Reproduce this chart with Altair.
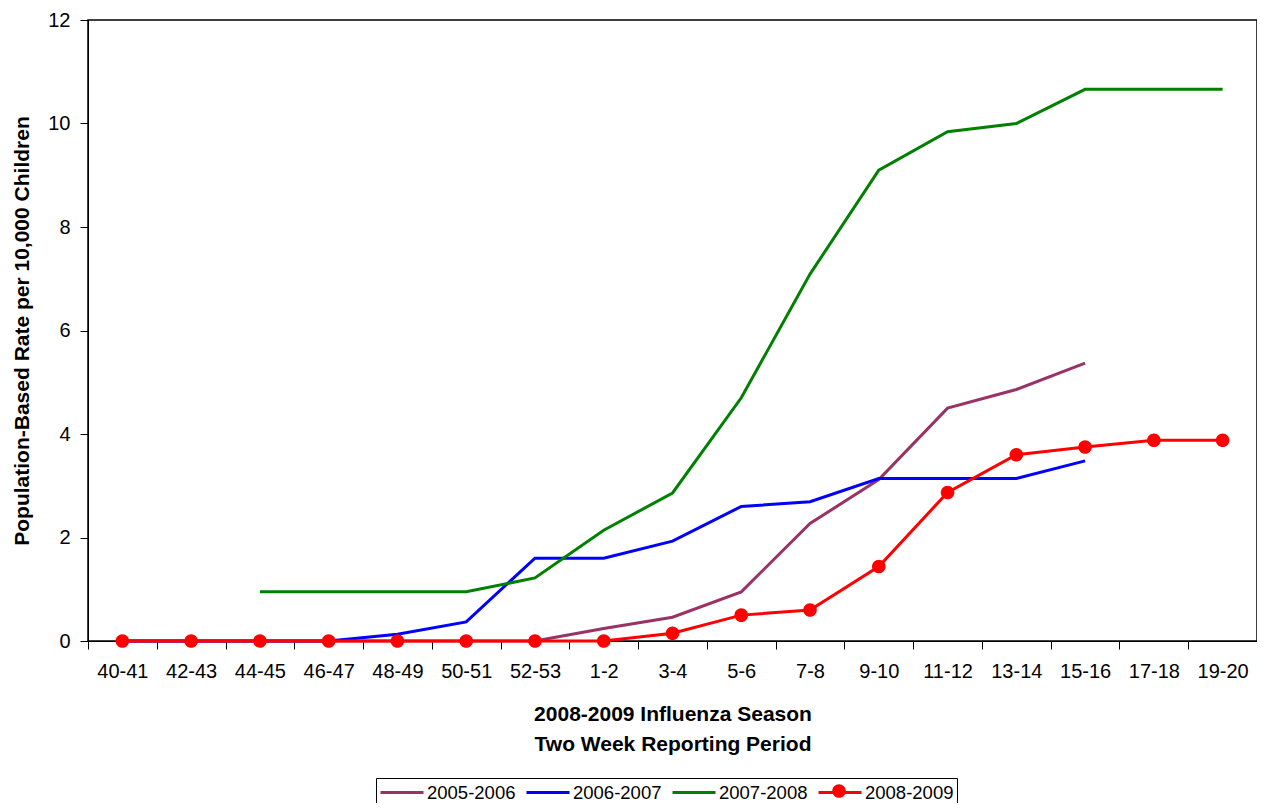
import altair as alt
import pandas as pd

periods = ["40-41", "42-43", "44-45", "46-47", "48-49", "50-51", "52-53", "1-2", "3-4",
           "5-6", "7-8", "9-10", "11-12", "13-14", "15-16", "17-18", "19-20"]
series_names = ["2005-2006", "2006-2007", "2007-2008", "2008-2009"]
series_colors = ["#993366", "#0000FF", "#008000", "#FF0000"]

s2005 = [0, 0, 0, 0, 0, 0, 0, 0.24, 0.46, 0.95, 2.27, 3.12, 4.50, 4.86, 5.37, None, None]
s2006 = [0, 0, 0, 0, 0.13, 0.37, 1.60, 1.60, 1.93, 2.60, 2.69, 3.14, 3.14, 3.14, 3.48, None, None]
s2007 = [None, None, 0.95, 0.95, 0.95, 0.95, 1.22, 2.14, 2.86, 4.70, 7.09, 9.10, 9.84, 10.0, 10.66, 10.66, 10.66]
s2008 = [0, 0, 0, 0, 0, 0, 0, 0, 0.15, 0.50, 0.60, 1.44, 2.87, 3.60, 3.75, 3.88, 3.88]

rows = []
for name, vals in zip(series_names, [s2005, s2006, s2007, s2008]):
    for p, v in zip(periods, vals):
        if v is not None:
            rows.append({"period": p, "rate": v, "series": name, "marker": name})
df = pd.DataFrame(rows)
df_red = df[df["series"] == "2008-2009"]

FONT = "Liberation Sans"

x_enc = alt.X(
    "period:N", sort=periods,
    scale=alt.Scale(type="band", domain=periods, paddingInner=0, paddingOuter=0),
    bandPosition=0.5,
    axis=alt.Axis(
        title=["2008-2009 Influenza Season", "Two Week Reporting Period"],
        labelAngle=0, tickBand="extent", tickSize=8, labelPadding=12,
        labelFontSize=20, titleFontSize=21, titleFontWeight="bold",
        titleLineHeight=30, titlePadding=22,
        domainColor="black", tickColor="black", labelColor="black", titleColor="black",
        grid=False,
    ),
)
y_enc = alt.Y(
    "rate:Q",
    scale=alt.Scale(domain=[0, 12], nice=False),
    axis=alt.Axis(
        title="Population-Based Rate per 10,000 Children",
        values=[0, 2, 4, 6, 8, 10, 12], tickSize=8, labelPadding=10,
        labelFontSize=20, titleFontSize=21, titleFontWeight="bold", titlePadding=15,
        domainColor="black", tickColor="black", labelColor="black", titleColor="black",
        grid=False,
    ),
)

LEG_X = 288
LEG_Y = 758
PERIOD = 145.5

lines = alt.Chart(df).mark_line(strokeWidth=3).encode(
    x=x_enc,
    y=y_enc,
    color=alt.Color(
        "series:N",
        scale=alt.Scale(domain=series_names, range=series_colors),
        legend=alt.Legend(
            title=None, orient="none", legendX=LEG_X, legendY=LEG_Y,
            direction="horizontal", columns=4, padding=3,
            symbolSize=400, symbolStrokeWidth=3, symbolType="M-1,0H3.3",
            labelFontSize=18.5, labelFont=FONT, labelOffset=25, columnPadding=4,
            labelColor="black", strokeColor="black", fillColor="white", zindex=0,
        ),
    ),
    detail="series:N",
)

circle_path = "M0.68,0A0.68,0.68 0 1 1 -0.68,0A0.68,0.68 0 1 1 0.68,0Z"
points = alt.Chart(df_red).mark_point(filled=True, size=400, opacity=1, color="#FF0000").encode(
    x=x_enc,
    y=y_enc,
    shape=alt.Shape(
        "marker:N",
        scale=alt.Scale(domain=["2008-2009"], range=[circle_path]),
        legend=alt.Legend(
            title=None, orient="none", legendX=LEG_X + 3 * PERIOD + 2, legendY=LEG_Y,
            direction="horizontal", padding=3, symbolSize=400, symbolStrokeWidth=0,
            symbolOffset=11.5, labelExpr="''", labelFontSize=18.5, zindex=1,
        ),
    ),
)

chart = alt.layer(lines, points).properties(
    width=1169, height=621,
    autosize=alt.AutoSizeParams(type="none"),
    padding={"left": 80, "top": 12, "right": 0, "bottom": 162},
).configure(font=FONT).configure_view(stroke="black", strokeWidth=1.5)

chart.save("out.html", embed_options={"renderer": "svg", "actions": False})
